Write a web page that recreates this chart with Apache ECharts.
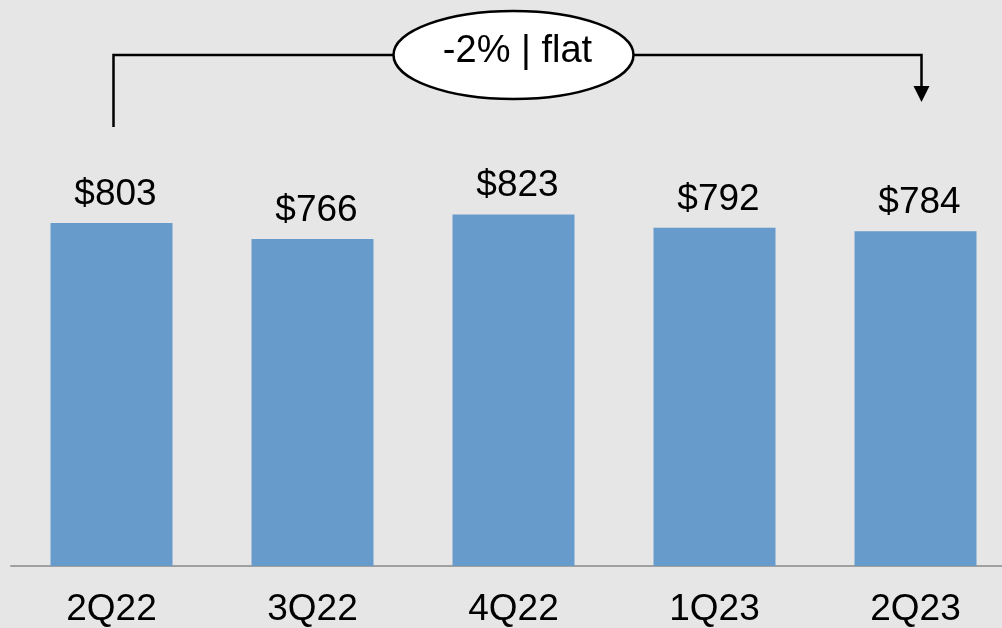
<!DOCTYPE html>
<html><head><meta charset="utf-8">
<script src="https://cdn.jsdelivr.net/npm/echarts@6/dist/echarts.min.js"></script>
<style>html,body{margin:0;padding:0;background:#e6e6e6;overflow:hidden;}#c{width:1017px;height:628px;}</style>
</head><body><div id="c"></div>
<script>
const categories = ['2Q22','3Q22','4Q22','1Q23','2Q23'];
const values = [803, 766, 823, 792, 784];
const valueLabels = ['$803','$766','$823','$792','$784'];
const changeText = '-2% | flat';

const chart = echarts.init(document.getElementById('c'));
const FONT = '"Liberation Sans", Arial, sans-serif';
chart.setOption({
  backgroundColor: '#e6e6e6',
  animation: false,
  grid: {left: 11, top: 139, right: 1, height: 428, containLabel: false},
  xAxis: {
    type: 'category', data: categories,
    axisLine: {lineStyle: {color: '#a0a0a0', width: 2}},
    axisTick: {show: false},
    axisLabel: {color: '#000', fontSize: 37, fontFamily: FONT, margin: 25}
  },
  yAxis: {type: 'value', min: 0, max: 1000, show: false, splitLine: {show: false}},
  series: [{
    type: 'bar', data: values, barWidth: 122,
    itemStyle: {color: '#669bcb'},
    label: {show: true, position: 'top', distance: 10, offset: [4, 0], color: '#000', fontSize: 37, fontFamily: FONT,
      formatter: p => valueLabels[p.dataIndex]}
  }]
});

const x0 = chart.convertToPixel({xAxisIndex: 0}, categories[0]);
const x1 = chart.convertToPixel({xAxisIndex: 0}, categories[categories.length - 1]) + 6;
const xl = x0 + 2;
const yTop = 55;
const cx = (xl + x1) / 2;
chart.setOption({
  graphic: [
    {type: 'polyline', shape: {points: [[xl, 127], [xl, yTop], [x1, yTop], [x1, 88]]},
     style: {stroke: '#000', lineWidth: 2.5, fill: null}},
    {type: 'polygon', shape: {points: [[x1 - 8, 86], [x1 + 8, 86], [x1, 102]]}, style: {fill: '#000'}},
    {type: 'ellipse', shape: {cx: cx - 4, cy: 55, rx: 120, ry: 44}, style: {fill: '#fff', stroke: '#000', lineWidth: 2.5}},
    {type: 'text', x: cx, y: 52, style: {text: changeText, fill: '#000', fontSize: 38, fontFamily: FONT, align: 'center', verticalAlign: 'middle'}}
  ]
});
</script></body></html>
